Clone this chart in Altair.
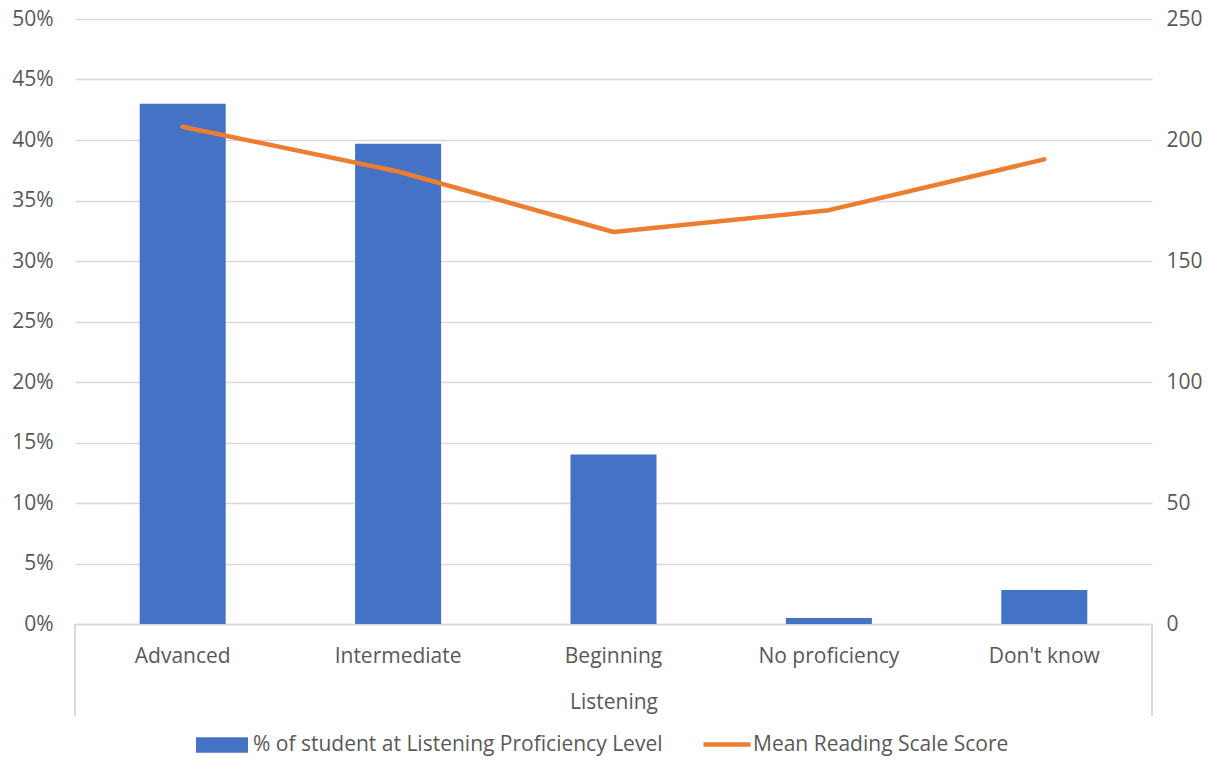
import altair as alt
import pandas as pd

categories = ["Advanced", "Intermediate", "Beginning", "No proficiency", "Don't know"]
pct_students = [0.43, 0.397, 0.14, 0.005, 0.028]
mean_score = [205.5, 187, 162, 171, 192]
left_ticks = [0, 0.05, 0.10, 0.15, 0.20, 0.25, 0.30, 0.35, 0.40, 0.45, 0.50]
right_ticks = [0, 50, 100, 150, 200, 250]
bar_series = "% of student at Listening Proficiency Level"
line_series = "Mean Reading Scale Score"
axis_title = "Listening"

df = pd.DataFrame({
    "category": categories,
    "pct": pct_students,
    "score": mean_score,
    "s1": [bar_series] * len(categories),
    "s2": [line_series] * len(categories),
})

FONT = "Open Sans"
TXT = "#595959"
GRID = "#D9D9D9"
W, H = 1077, 605
FS = 21

x_enc = alt.X(
    "category:N",
    sort=categories,
    scale=alt.Scale(paddingInner=0, paddingOuter=0),
    axis=alt.Axis(
        title=axis_title, labelAngle=0, ticks=False, domainColor=GRID,
        domainWidth=1.5, labelPadding=21, titlePadding=25,
        labelFontSize=FS, titleFontSize=FS, labelFont=FONT, titleFont=FONT,
        labelColor=TXT, titleColor=TXT, titleFontWeight="normal",
    ),
)

bars = alt.Chart(df).mark_bar(size=86, color="#4472C4").encode(
    x=x_enc,
    y=alt.Y(
        "pct:Q",
        scale=alt.Scale(domain=[0, 0.5], nice=False),
        axis=alt.Axis(
            values=left_ticks, format=".0%", title=None, domain=False, ticks=False,
            grid=True, gridColor=GRID, gridWidth=1.5, labelPadding=22,
            labelFontSize=FS, labelFont=FONT, labelColor=TXT,
        ),
    ),
    color=alt.Color(
        "s1:N",
        scale=alt.Scale(range=["#4472C4"]),
        legend=alt.Legend(
            orient="none", legendX=121, legendY=700, title=None,
            symbolType="M-1,-0.3L1,-0.3L1,0.3L-1,0.3Z", symbolSize=2704,
            symbolStrokeWidth=0, labelFontSize=FS, labelFont=FONT, labelColor=TXT,
            labelOffset=5, labelLimit=700, padding=0,
        ),
    ),
)

line = alt.Chart(df).mark_line(strokeWidth=4.5, strokeCap="round", strokeJoin="round").encode(
    x=x_enc,
    y=alt.Y(
        "score:Q",
        scale=alt.Scale(domain=[0, 250], nice=False),
        axis=alt.Axis(
            values=right_ticks, orient="right", title=None, domain=False, ticks=False,
            grid=False, labelPadding=14, labelAlign="left",
            labelFontSize=FS, labelFont=FONT, labelColor=TXT,
        ),
    ),
    stroke=alt.Stroke(
        "s2:N",
        scale=alt.Scale(range=["#ED7D31"]),
        legend=alt.Legend(
            orient="none", legendX=626, legendY=699.5, title=None,
            symbolType="stroke", symbolSize=2209, symbolStrokeWidth=4.5,
            labelFontSize=FS, labelFont=FONT, labelColor=TXT, labelOffset=0,
            labelLimit=700, padding=0,
        ),
    ),
)

edges = alt.Chart(df).mark_rule(color=GRID, strokeWidth=1.5).encode(
    x=alt.value(0), y=alt.value(H), y2=alt.value(H + 92)
)
edges_r = alt.Chart(df).mark_rule(color=GRID, strokeWidth=1.5).encode(
    x=alt.value(W), y=alt.value(H), y2=alt.value(H + 92)
)

chart = (
    alt.layer(bars, line, edges, edges_r)
    .resolve_scale(y="independent")
    .properties(
        width=W, height=H,
        padding={"left": 67, "top": 11, "right": 51, "bottom": 134},
        autosize=alt.AutoSizeParams(type="none"),
    )
    .configure_view(stroke=None)
)

chart.save("out.html", embed_options={"renderer": "svg", "actions": False})
